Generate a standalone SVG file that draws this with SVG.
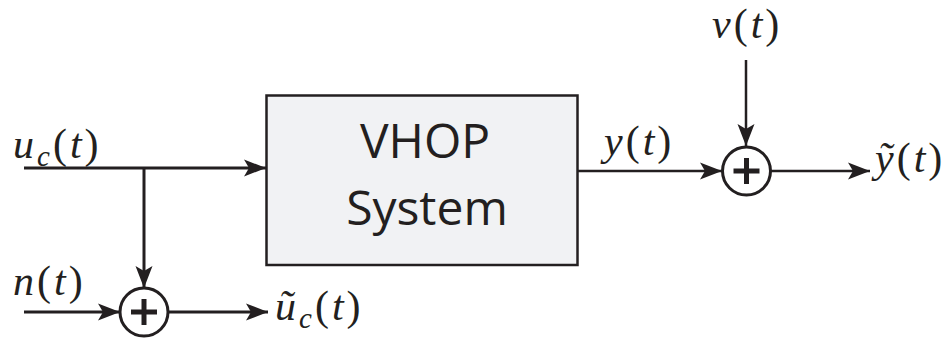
<svg xmlns="http://www.w3.org/2000/svg" width="948" height="339" viewBox="0 0 948 339">
<style>
.ln{fill:none;stroke:#231f20;stroke-width:3}
.lt{fill:none;stroke:#231f20;stroke-width:2.5}
.m{font-family:"Liberation Serif","DejaVu Serif",serif;font-size:42px;letter-spacing:3px;fill:#231f20}
.i{font-style:italic}
.sub{font-style:italic;font-size:29px}
.box{fill:#f1f2f4;stroke:#231f20;stroke-width:2.5}
.sum{fill:#fff;stroke:#231f20;stroke-width:3}
.plus{stroke:#231f20;stroke-width:5}
.lbl{font-family:"Open Sans","Liberation Sans",sans-serif;font-size:48px;fill:#231f20;text-anchor:middle}
</style>
<defs>
<marker id="ah" viewBox="-23 -10 24 20" markerWidth="24" markerHeight="20" refX="0" refY="0" orient="auto" markerUnits="userSpaceOnUse">
<path d="M0,0 L-22,-8.5 L-17,0 L-22,8.5 Z" fill="#231f20"/>
</marker>
</defs>
<g id="connectors">
<line class="ln" x1="24" y1="168" x2="266" y2="168" marker-end="url(#ah)"/>
<line class="ln" x1="144" y1="168" x2="144" y2="288" marker-end="url(#ah)"/>
<line class="ln" x1="24" y1="312" x2="120" y2="312" marker-end="url(#ah)"/>
<line class="ln" x1="168" y1="312" x2="268" y2="312" marker-end="url(#ah)"/>
<line class="lt" x1="578" y1="171" x2="722" y2="171" marker-end="url(#ah)"/>
<line class="lt" x1="746" y1="60" x2="746" y2="146" marker-end="url(#ah)"/>
<line class="lt" x1="771" y1="171" x2="870" y2="171" marker-end="url(#ah)"/>
</g>
<g id="vhop">
<rect class="box" x="266.5" y="95.5" width="311" height="169.5"/>
<text class="lbl" x="425" y="158">VHOP</text>
<text class="lbl" x="427" y="225">System</text>
</g>
<g id="sum1">
<circle class="sum" cx="144" cy="312" r="24"/>
<line class="plus" x1="131" y1="312" x2="157" y2="312"/>
<line class="plus" x1="144" y1="299" x2="144" y2="325"/>
</g>
<g id="sum2">
<circle class="sum" cx="746.5" cy="171" r="24"/>
<line class="plus" x1="733.5" y1="171" x2="759.5" y2="171"/>
<line class="plus" x1="746.5" y1="158" x2="746.5" y2="184"/>
</g>
<g id="labels">
<text class="m" x="13" y="158"><tspan class="i">u</tspan><tspan class="sub" dy="8">c</tspan><tspan dy="-8">(</tspan><tspan class="i">t</tspan>)</text>
<text class="m" x="13" y="295"><tspan class="i">n</tspan>(<tspan class="i">t</tspan>)</text>
<text class="m" x="275" y="320"><tspan class="i">ũ</tspan><tspan class="sub" dy="8">c</tspan><tspan dy="-8">(</tspan><tspan class="i">t</tspan>)</text>
<text class="m" x="604" y="155"><tspan class="i">y</tspan>(<tspan class="i">t</tspan>)</text>
<text class="m" x="712" y="38"><tspan class="i">v</tspan>(<tspan class="i">t</tspan>)</text>
<text class="m" x="875" y="172"><tspan class="i">ỹ</tspan>(<tspan class="i">t</tspan>)</text>
</g>
</svg>
